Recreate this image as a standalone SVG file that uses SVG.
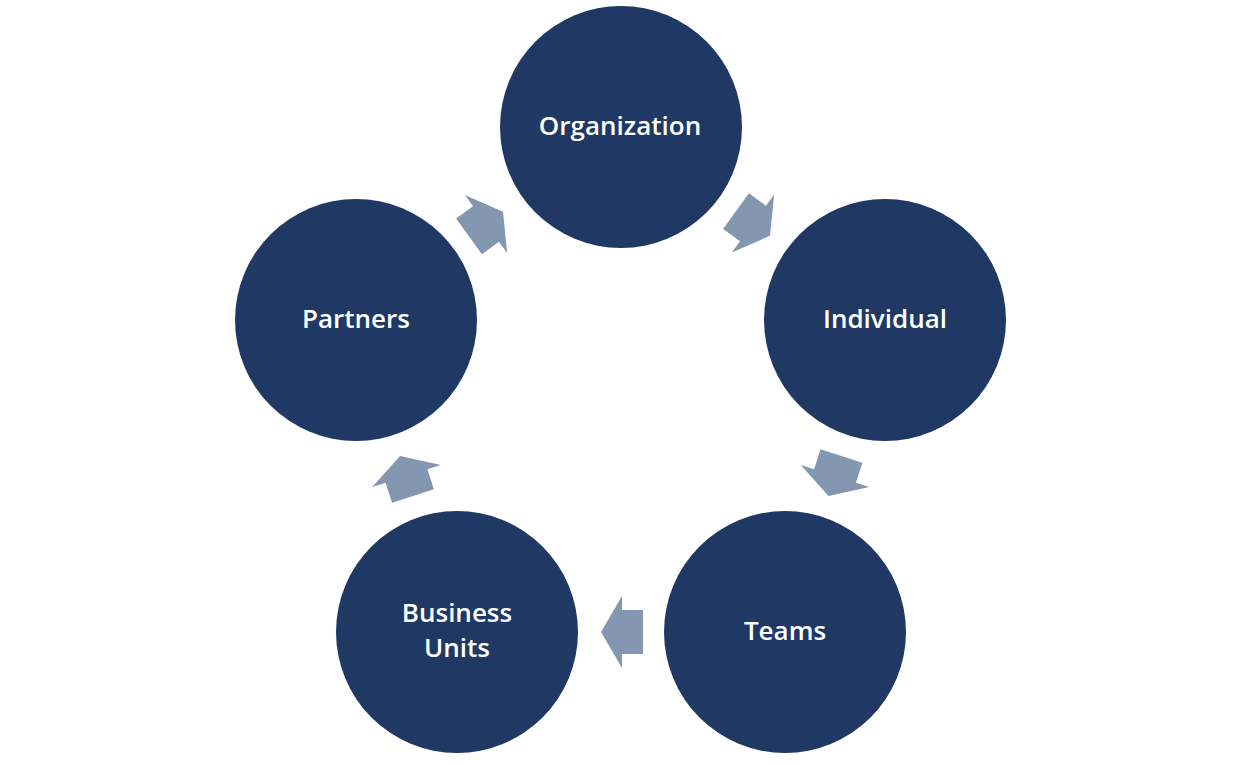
<svg xmlns="http://www.w3.org/2000/svg" width="1246" height="765" viewBox="0 0 1246 765">
<defs>
<style>
.node{fill:#203864}
.lbl{fill:#ffffff;font-family:"Open Sans","Liberation Sans",sans-serif;font-size:26px;font-weight:600;text-anchor:middle;dominant-baseline:central}
.arr{fill:#8497B0}
</style>
<polygon id="ar" points="-21,-22 0,-22 0,-36 21,0 0,36 0,22 -21,22"/>
</defs>
<rect width="1246" height="765" fill="#ffffff"/>
<g id="connectors" class="arr">
<use href="#ar" transform="translate(753,223.5) rotate(36)"/>
<use href="#ar" transform="translate(835,476) rotate(108)"/>
<use href="#ar" transform="translate(622,632) rotate(180)"/>
<use href="#ar" transform="translate(406.5,476) rotate(252)"/>
<use href="#ar" transform="translate(486,224) rotate(324)"/>
</g>
<g id="organization"><circle class="node" cx="621" cy="127" r="121"/><text class="lbl" x="620" y="125">Organization</text></g>
<g id="individual"><circle class="node" cx="885" cy="320" r="121"/><text class="lbl" x="885" y="318">Individual</text></g>
<g id="teams"><circle class="node" cx="785" cy="632" r="121"/><text class="lbl" x="785" y="630">Teams</text></g>
<g id="business-units"><circle class="node" cx="457" cy="632" r="121"/><text class="lbl" x="457" y="612">Business</text><text class="lbl" x="457" y="647">Units</text></g>
<g id="partners"><circle class="node" cx="356" cy="320" r="121"/><text class="lbl" x="356" y="318">Partners</text></g>
</svg>
